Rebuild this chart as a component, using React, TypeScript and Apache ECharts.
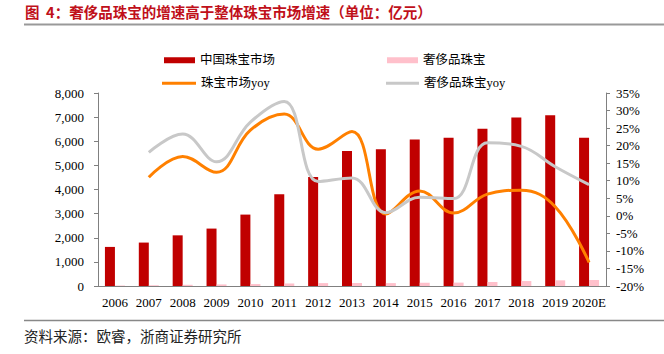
import React, { useEffect, useRef } from "react";
import * as echarts from "echarts";

const years = ["2006", "2007", "2008", "2009", "2010", "2011", "2012", "2013", "2014", "2015", "2016", "2017", "2018", "2019", "2020E"];
const chinaMarket = [1620, 1800, 2100, 2380, 2960, 3800, 4520, 5600, 5670, 6070, 6140, 6520, 6980, 7080, 6150];
const luxuryJewelry = [20, 30, 50, 65, 80, 105, 120, 125, 120, 135, 140, 165, 205, 235, 250];
const marketYoy = [null, 11, 16.9, 12.4, 24.4, 29, 19, 24, 0.5, 7.1, 0.8, 6.2, 7.3, 2.6, -13.3];
const luxuryYoy = [null, 18.1, 23.3, 15.4, 26.7, 32.6, 9.8, 10.8, 0.9, 5.3, 4.9, 20.8, 19.8, 14, 8.9];

const titleText = "图  4：奢侈品珠宝的增速高于整体珠宝市场增速（单位：亿元）";
const sourceText = "资料来源：欧睿，浙商证券研究所";

const SERIF = "'Liberation Serif', 'Times New Roman', 'Noto Sans CJK SC', serif";
const CJK = "'Liberation Serif', 'Noto Sans CJK SC', sans-serif";

export default function App() {
  const ref = useRef<HTMLDivElement>(null);
  useEffect(() => {
    if (!ref.current) return;
    const chart = echarts.init(ref.current, undefined, { renderer: "svg" });
    const legendText = { fontFamily: CJK, fontSize: 12.5, color: "#000" };
    const mkLegend = (name: string, left: number, top: number, w: number, h: number) => ({
      data: [name],
      left,
      top,
      icon: "rect",
      itemWidth: w,
      itemHeight: h,
      itemGap: 0,
      textStyle: legendText,
      selectedMode: false,
    });
    chart.setOption({
      animation: false,
      backgroundColor: "#fff",
      grid: { left: 98, right: 58, top: 93, bottom: 68 },
      legend: [
        mkLegend("中国珠宝市场", 159, 49, 31, 6),
        mkLegend("奢侈品珠宝", 382, 49, 31, 6),
        mkLegend("珠宝市场yoy", 157, 72, 34, 3),
        mkLegend("奢侈品珠宝yoy", 381, 72, 33, 3),
      ],
      xAxis: {
        type: "category",
        data: years,
        axisLine: { lineStyle: { color: "#808080", width: 1 } },
        axisTick: { inside: true, length: 4, lineStyle: { color: "#808080" } },
        axisLabel: { fontFamily: SERIF, fontSize: 13, color: "#000", margin: 10, interval: 0 },
      },
      yAxis: [
        {
          type: "value",
          min: 0,
          max: 8000,
          interval: 1000,
          splitLine: { show: false },
          axisLine: { show: true, lineStyle: { color: "#808080" } },
          axisTick: { show: true, length: 4, lineStyle: { color: "#808080" } },
          axisLabel: {
            fontFamily: SERIF,
            fontSize: 13,
            color: "#000",
            margin: 14,
            formatter: (v: number) => v.toLocaleString("en-US"),
          },
        },
        {
          type: "value",
          min: -20,
          max: 35,
          interval: 5,
          position: "right",
          splitLine: { show: false },
          axisLine: { show: true, lineStyle: { color: "#808080" } },
          axisTick: { show: true, length: 4, lineStyle: { color: "#808080" } },
          axisLabel: {
            fontFamily: SERIF,
            fontSize: 13,
            color: "#000",
            margin: 10,
            formatter: (v: number) => v + "%",
          },
        },
      ],
      series: [
        {
          name: "中国珠宝市场",
          type: "bar",
          data: chinaMarket,
          barWidth: 10,
          barGap: "0%",
          itemStyle: { color: "#C00000" },
        },
        {
          name: "奢侈品珠宝",
          type: "bar",
          data: luxuryJewelry,
          barWidth: 10,
          barGap: "0%",
          itemStyle: { color: "#FFC0CB" },
        },
        {
          name: "珠宝市场yoy",
          type: "line",
          yAxisIndex: 1,
          data: marketYoy,
          smooth: 0.4,
          symbol: "none",
          lineStyle: { color: "#FF8000", width: 3 },
          itemStyle: { color: "#FF8000" },
        },
        {
          name: "奢侈品珠宝yoy",
          type: "line",
          yAxisIndex: 1,
          data: luxuryYoy,
          smooth: 0.4,
          symbol: "none",
          lineStyle: { color: "#C8C8C8", width: 3 },
          itemStyle: { color: "#C8C8C8" },
        },
      ],
      graphic: [
        {
          type: "text",
          left: 25,
          top: 4,
          style: {
            text: titleText,
            fontFamily: "'Noto Sans CJK SC', sans-serif",
            fontWeight: "bold",
            fontSize: 14.5,
            fill: "#C0101A",
          },
        },
        {
          type: "line",
          shape: { x1: 24, y1: 24.5, x2: 664, y2: 24.5 },
          style: { stroke: "#999999", lineWidth: 2 },
        },
        {
          type: "line",
          shape: { x1: 24, y1: 320.5, x2: 664, y2: 320.5 },
          style: { stroke: "#888888", lineWidth: 1.5 },
        },
        {
          type: "text",
          left: 24,
          top: 328,
          style: {
            text: sourceText,
            fontFamily: "'Noto Sans CJK SC', sans-serif",
            fontSize: 14.5,
            fill: "#222",
          },
        },
      ],
    });
    return () => chart.dispose();
  }, []);
  return (
    <div
      ref={ref}
      style={{ position: "fixed", left: 0, top: 0, width: 664, height: 354, background: "#fff" }}
    />
  );
}
